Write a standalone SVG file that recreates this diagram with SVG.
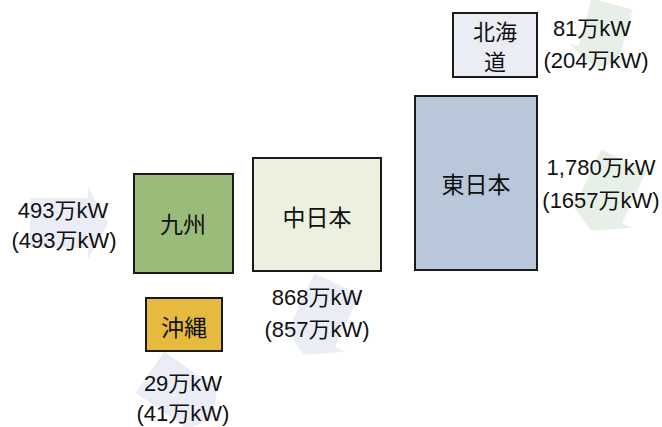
<svg xmlns="http://www.w3.org/2000/svg" width="662" height="427" viewBox="0 0 662 427">
<style>
.box{stroke:#1a1a1a;stroke-width:2}
.nt{font-family:"Noto Sans CJK JP","Liberation Sans",sans-serif;font-size:23px;fill:#111;text-anchor:middle}
.nt2{font-size:22px}
.lb{font-family:"Liberation Sans","Noto Sans CJK JP",sans-serif;font-size:22px;fill:#111;text-anchor:middle}
.ab{fill:#eaedf6}
.ag{fill:#e6f0e6}
</style>
<defs>
<path id="arr" d="M0,-25 H58 V-36 L78,0 L58,36 V25 H0 Z"/>
</defs>
<g id="connectors">
<use href="#arr" class="ab" transform="translate(30,223)"/>
<use href="#arr" class="ab" transform="translate(150,372) rotate(35)"/>
<use href="#arr" class="ab" transform="translate(337,284) rotate(115)"/>
<use href="#arr" class="ag" transform="translate(624,160) rotate(115)"/>
<use href="#arr" class="ag" transform="translate(612,4) rotate(105) scale(0.85)"/>
</g>
<g id="hokkaido">
<rect class="box" x="453" y="13" width="84" height="64" fill="#ebedf5"/>
<text class="nt nt2" x="495" y="40">北海</text>
<text class="nt nt2" x="495" y="70">道</text>
</g>
<g id="higashi">
<rect class="box" x="415" y="96" width="122" height="174" fill="#b9c7db"/>
<text class="nt" x="476" y="193">東日本</text>
</g>
<g id="chubu">
<rect class="box" x="253" y="158" width="128" height="113" fill="#ebf1de"/>
<text class="nt" x="317" y="226">中日本</text>
</g>
<g id="kyushu">
<rect class="box" x="134" y="174" width="99" height="99" fill="#9bbb7a"/>
<text class="nt" x="183" y="233">九州</text>
</g>
<g id="okinawa">
<rect class="box" x="146" y="298" width="76" height="53" fill="#e6b93f"/>
<text class="nt" x="184" y="336">沖縄</text>
</g>
<g id="labels">
<text class="lb" x="63" y="218">493万kW</text>
<text class="lb" x="64" y="248">(493万kW)</text>
<text class="lb" x="592" y="36">81万kW</text>
<text class="lb" x="596" y="68">(204万kW)</text>
<text class="lb" x="601" y="175">1,780万kW</text>
<text class="lb" x="601" y="208">(1657万kW)</text>
<text class="lb" x="317" y="305">868万kW</text>
<text class="lb" x="317" y="337">(857万kW)</text>
<text class="lb" x="183" y="391">29万kW</text>
<text class="lb" x="183" y="421">(41万kW)</text>
</g>
</svg>
